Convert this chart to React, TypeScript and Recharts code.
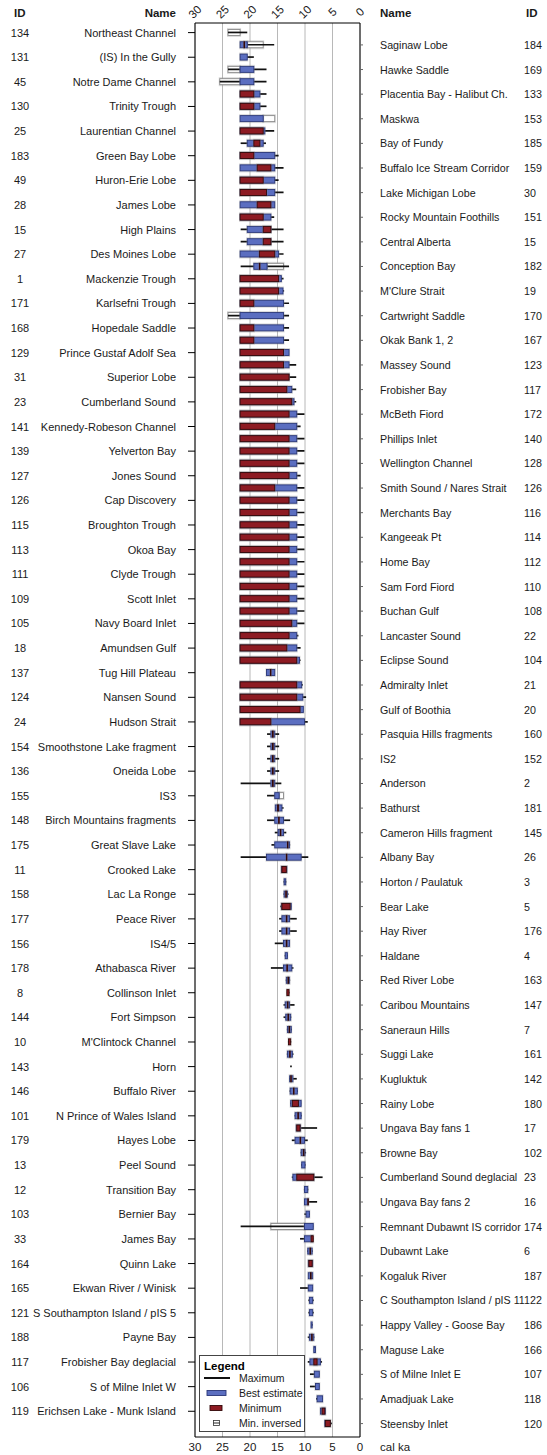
import React from "react";
import { Bar, CartesianGrid, ComposedChart, Legend, XAxis, YAxis } from "recharts";

type Span = [number, number] | null;

// rows alternate: even rows labelled on the left, odd rows on the right
const leftIds = [134, 131, 45, 130, 25, 183, 49, 28, 15, 27, 1, 171, 168, 129, 31, 23, 141, 139, 127, 126, 115, 113, 111, 109, 105, 18, 137, 124, 24, 154, 136, 155, 148, 175, 11, 158, 177, 156, 178, 8, 144, 10, 143, 146, 101, 179, 13, 12, 103, 33, 164, 165, 121, 188, 117, 106, 119];
const leftNames = ["Northeast Channel", "(IS) In the Gully", "Notre Dame Channel", "Trinity Trough", "Laurentian Channel", "Green Bay Lobe", "Huron-Erie Lobe", "James Lobe", "High Plains", "Des Moines Lobe", "Mackenzie Trough", "Karlsefni Trough", "Hopedale Saddle", "Prince Gustaf Adolf Sea", "Superior Lobe", "Cumberland Sound", "Kennedy-Robeson Channel", "Yelverton Bay", "Jones Sound", "Cap Discovery", "Broughton Trough", "Okoa Bay", "Clyde Trough", "Scott Inlet", "Navy Board Inlet", "Amundsen Gulf", "Tug Hill Plateau", "Nansen Sound", "Hudson Strait", "Smoothstone Lake fragment", "Oneida Lobe", "IS3", "Birch Mountains fragments", "Great Slave Lake", "Crooked Lake", "Lac La Ronge", "Peace River", "IS4/5", "Athabasca River", "Collinson Inlet", "Fort Simpson", "M'Clintock Channel", "Horn", "Buffalo River", "N Prince of Wales Island", "Hayes Lobe", "Peel Sound", "Transition Bay", "Bernier Bay", "James Bay", "Quinn Lake", "Ekwan River / Winisk", "S Southampton Island / pIS 5", "Payne Bay", "Frobisher Bay deglacial", "S of Milne Inlet W", "Erichsen Lake - Munk Island"];
const rightIds = [184, 169, 133, 153, 185, 159, 30, 151, 15, 182, 19, 170, 167, 123, 117, 172, 140, 128, 126, 116, 114, 112, 110, 108, 22, 104, 21, 20, 160, 152, 2, 181, 145, 26, 3, 5, 176, 4, 163, 147, 7, 161, 142, 180, 17, 102, 23, 16, 174, 6, 187, 122, 186, 166, 107, 118, 120];
const rightNames = ["Saginaw Lobe", "Hawke Saddle", "Placentia Bay - Halibut Ch.", "Maskwa", "Bay of Fundy", "Buffalo Ice Stream Corridor", "Lake Michigan Lobe", "Rocky Mountain Foothills", "Central Alberta", "Conception Bay", "M'Clure Strait", "Cartwright Saddle", "Okak Bank 1, 2", "Massey Sound", "Frobisher Bay", "McBeth Fiord", "Phillips Inlet", "Wellington Channel", "Smith Sound / Nares Strait", "Merchants Bay", "Kangeeak Pt", "Home Bay", "Sam Ford Fiord", "Buchan Gulf", "Lancaster Sound", "Eclipse Sound", "Admiralty Inlet", "Gulf of Boothia", "Pasquia Hills fragments", "IS2", "Anderson", "Bathurst", "Cameron Hills fragment", "Albany Bay", "Horton / Paulatuk", "Bear Lake", "Hay River", "Haldane", "Red River Lobe", "Caribou Mountains", "Saneraun Hills", "Suggi Lake", "Kugluktuk", "Rainy Lobe", "Ungava Bay fans 1", "Browne Bay", "Cumberland Sound deglacial", "Ungava Bay fans 2", "Remnant Dubawnt IS corridor", "Dubawnt Lake", "Kogaluk River", "C Southampton Island / pIS 11", "Happy Valley - Goose Bay", "Maguse Lake", "S of Milne Inlet E", "Amadjuak Lake", "Steensby Inlet"];

const xTicks = [30, 25, 20, 15, 10, 5, 0];

// ages in cal ka, [older, younger], one entry per row (114 rows)
const maximum: Span[] = [
  [24.0, 20.5], [21.8, 15.6], [21.8, 19.3], [24.0, 17.0], [25.5, 17.0], [21.8, 17.0], [21.8, 17.0], null, [21.8, 15.6], [21.7, 17.1],
  [21.8, 14.8], [21.8, 13.9], [21.8, 14.8], [21.8, 13.9], null, [21.8, 15.6], [21.7, 13.9], [21.7, 13.9], [21.8, 13.9], [21.7, 12.9],
  [21.8, 13.9], [21.8, 13.8], [21.8, 12.9], [24.0, 12.9], [21.8, 12.9], [21.8, 12.9], null, [21.8, 11.6], [21.8, 11.6], [21.8, 11.6],
  [21.8, 11.6], [21.8, 10.1], [21.8, 10.8], [21.8, 10.1], [21.8, 10.1], [21.8, 10.1], [21.8, 10.8], [21.8, 10.1], [21.8, 10.1], [21.8, 10.1],
  [21.8, 10.1], [21.8, 10.1], [21.8, 10.1], [21.8, 10.1], [21.8, 10.1], [21.8, 10.1], [21.8, 10.1], [21.8, 10.1], [21.8, 10.1], [21.8, 11.2],
  [21.8, 10.8], [21.8, 10.8], null, [21.8, 10.4], [21.8, 9.8], null, [21.8, 9.5], [16.9, 14.7], [16.9, 14.7], [16.9, 14.7],
  [16.9, 14.7], [21.7, 14.3], [16.9, 14.7], [15.4, 13.9], [16.9, 12.7], [15.5, 13.4], [16.1, 12.7], [21.7, 9.4], [14.3, 13.3], [13.9, 13.4],
  [13.9, 13.0], [14.5, 12.5], [14.7, 11.5], [14.7, 11.5], [15.5, 12.8], [13.7, 13.1], [16.2, 12.1], [13.5, 12.7], [13.3, 12.8], [13.9, 11.9],
  [13.9, 12.5], [13.3, 12.4], [13.1, 12.5], [13.3, 12.1], [12.7, 12.4], [12.9, 11.5], [12.8, 11.3], [12.7, 10.7], [11.9, 10.6], [11.6, 7.8],
  [12.4, 9.5], [10.8, 9.8], [10.7, 9.9], [12.4, 6.8], [10.2, 9.4], [10.1, 7.8], [10.1, 9.1], [21.7, 8.5], [10.9, 8.5], [9.6, 8.6],
  null, null, [10.9, 8.6], [9.4, 8.4], [9.4, 8.4], [8.9, 8.6], [9.5, 8.3], null, [9.5, 6.9], [9.1, 7.4],
  [9.1, 7.4], [8.0, 6.8], null, [6.4, 5.1],
];

const bestEstimate: Span[] = [
  null, [21.8, 20.5], [21.8, 20.5], [21.8, 19.3], [21.8, 19.3], [21.8, 18.2], [21.8, 18.2], [21.8, 17.6], [21.8, 17.3], [20.5, 17.6],
  [21.8, 15.5], [21.8, 15.5], [21.8, 15.5], [21.8, 15.5], [21.8, 15.5], [21.8, 16.2], [20.5, 16.2], [20.5, 16.2], [21.8, 14.8], [19.3, 16.9],
  [21.8, 14.3], [21.8, 14.0], [21.8, 13.9], [21.8, 13.9], [21.8, 13.9], [21.8, 13.9], [21.8, 12.9], [21.8, 12.9], [21.8, 12.9], [21.8, 12.4],
  [21.8, 12.0], [21.8, 11.5], [21.8, 11.5], [21.8, 11.5], [21.8, 11.5], [21.8, 11.5], [21.8, 11.5], [21.8, 11.5], [21.8, 11.5], [21.8, 11.5],
  [21.8, 11.5], [21.8, 11.5], [21.8, 11.5], [21.8, 11.5], [21.8, 11.5], [21.8, 11.5], [21.8, 11.5], [21.8, 11.5], [21.8, 11.5], [21.8, 11.5],
  [21.8, 11.5], [21.8, 11.0], [17.0, 15.5], [21.8, 10.6], [21.8, 10.4], [21.8, 10.3], [21.8, 10.1], [16.2, 15.5], [16.2, 15.5], [16.2, 15.5],
  [16.2, 15.5], [16.2, 15.5], [15.5, 14.7], [15.4, 14.2], [15.5, 13.9], [14.9, 13.9], [15.5, 12.8], [17.0, 10.7], [14.3, 13.3], [13.8, 13.5],
  [13.8, 13.2], [14.3, 12.5], [14.2, 12.8], [14.2, 12.8], [13.9, 12.8], [13.6, 13.2], [13.9, 12.4], [13.4, 12.8], null, [13.6, 12.8],
  [13.5, 12.6], [13.2, 12.5], null, [13.2, 12.3], null, [12.8, 12.2], [12.7, 11.4], [12.6, 10.7], [11.8, 10.7], [11.6, 10.8],
  [11.8, 10.1], [10.7, 10.0], [10.6, 10.0], [12.2, 8.4], [10.1, 9.5], [10.1, 9.4], [9.8, 9.2], [10.1, 8.5], [10.1, 8.6], [9.5, 8.7],
  [9.4, 8.6], [9.4, 8.6], [9.4, 8.6], [9.2, 8.6], [9.2, 8.6], [8.9, 8.7], [9.2, 8.4], [8.4, 8.1], [9.1, 7.2], [8.3, 7.4],
  [8.1, 7.4], [7.8, 6.8], [7.2, 6.3], [6.4, 5.4],
];

const minimum: Span[] = [
  null, [21.1, 21.0], null, null, null, [21.8, 19.3], [21.8, 19.3], null, [21.8, 17.6], [19.3, 18.2],
  [21.8, 19.3], [18.7, 16.2], [21.8, 17.6], [21.8, 17.0], [18.7, 16.2], [21.8, 17.6], [17.6, 16.2], [17.6, 16.2], [18.3, 15.5], [18.3, 18.2],
  [21.8, 14.8], [21.8, 14.8], [21.8, 19.3], null, [21.8, 19.3], [21.8, 19.3], [21.8, 13.9], [21.8, 13.9], [21.8, 12.9], [21.8, 13.3],
  [21.8, 12.4], [21.8, 12.9], [21.8, 15.5], [21.8, 12.9], [21.8, 12.9], [21.8, 12.9], [21.8, 12.9], [21.8, 15.5], [21.8, 12.9], [21.8, 12.9],
  [21.8, 12.9], [21.8, 12.9], [21.8, 12.9], [21.8, 12.9], [21.8, 12.9], [21.8, 12.9], [21.8, 12.9], [21.8, 12.9], [21.8, 12.4], [21.8, 12.9],
  [21.8, 13.3], [21.8, 11.5], [16.3, 16.2], [21.8, 11.5], [21.8, 11.5], [21.8, 10.9], [21.8, 16.2], [15.9, 15.8], [15.9, 15.8], [15.9, 15.8],
  [15.9, 15.8], [15.9, 15.8], null, [15.0, 14.8], [14.8, 14.7], [14.5, 14.4], [13.2, 13.1], [13.4, 13.3], [14.2, 13.4], null,
  [13.5, 13.4], [14.2, 12.7], [13.4, 13.3], [13.4, 13.3], [13.4, 13.3], null, [13.3, 13.2], [13.1, 13.0], [13.3, 12.9], [13.2, 13.1],
  [13.1, 13.0], [12.9, 12.8], [13.0, 12.6], [12.8, 12.7], null, [12.6, 12.5], [12.1, 12.0], [12.3, 11.2], [11.3, 11.2], [11.5, 10.9],
  [10.9, 10.8], [10.3, 10.2], null, [11.5, 8.4], null, [9.5, 9.4], null, null, [8.9, 8.5], [9.1, 9.0],
  [9.3, 8.7], [9.0, 8.9], null, null, null, null, [8.8, 8.7], null, [8.4, 7.8], null,
  null, null, [6.9, 6.4], [6.3, 5.4],
];

const minInversed: Span[] = [
  [24.0, 21.8], [20.5, 17.6], null, [24.0, 21.8], [25.5, 21.8], null, null, [17.6, 15.5], null, null,
  null, null, null, null, null, null, null, null, null, [16.9, 13.9],
  null, null, null, [24.0, 21.8], null, null, null, null, null, null,
  null, null, null, null, null, null, null, null, null, null,
  null, null, null, null, null, null, null, null, null, null,
  null, null, null, null, null, null, null, null, null, null,
  null, null, [14.7, 13.9], null, null, null, null, null, null, null,
  null, null, null, null, null, null, null, null, null, null,
  null, null, null, null, null, null, null, null, null, null,
  null, null, null, null, null, null, null, [16.2, 10.1], null, null,
  null, null, null, null, null, null, null, null, null, null,
  null, null, null, null,
];

const rows = maximum.map((_, i) => ({
  row: i,
  id: i % 2 === 0 ? leftIds[i / 2] : rightIds[(i - 1) / 2],
  name: i % 2 === 0 ? leftNames[i / 2] : rightNames[(i - 1) / 2],
  max: maximum[i],
  best: bestEstimate[i],
  min: minimum[i],
  inv: minInversed[i],
}));

const leftTicks = leftIds.map((_, k) => k * 2);
const rightTicks = rightIds.map((_, k) => k * 2 + 1);

const FONT = "'Liberation Sans', Arial, sans-serif";
const BLUE = "#5b6ec0";
const BLUE_EDGE = "#2a3778";
const RED = "#8d1b23";
const RED_EDGE = "#320808";

function boxShape(key: string, fill: string, stroke: string) {
  return (props: any) => {
    const { x, y, width, height, payload } = props;
    if (!payload || !payload[key] || !Number.isFinite(x) || !Number.isFinite(width)) return <g />;
    const left = Math.min(x, x + width);
    const w = Math.max(Math.abs(width), 0.6);
    const cy = y + height / 2;
    return (
      <g>
        <rect x={left - 1} y={cy - 4.5} width={w + 2} height={9} fill="#999" fillOpacity={0.35} />
        <rect x={left} y={cy - 3} width={w} height={6} fill={fill} stroke={stroke} strokeWidth={0.9} />
      </g>
    );
  };
}

const whiskerShape = (props: any) => {
  const { x, y, width, height, payload } = props;
  if (!payload || !payload.max || !Number.isFinite(x) || !Number.isFinite(width)) return <g />;
  const left = Math.min(x, x + width);
  const cy = y + height / 2;
  return <line x1={left} x2={left + Math.abs(width)} y1={cy} y2={cy} stroke="#111" strokeWidth={1.7} />;
};

const LeftTick = ({ y, payload }: any) => {
  const r = rows[payload.value];
  if (!r) return null;
  return (
    <g fontFamily={FONT} fontSize={11} fill="#1a1a1a">
      <text x={20} y={y} textAnchor="middle" dominantBaseline="central">{r.id}</text>
      <text x={176} y={y} textAnchor="end" dominantBaseline="central">{r.name}</text>
    </g>
  );
};

const RightTick = ({ y, payload }: any) => {
  const r = rows[payload.value];
  if (!r) return null;
  return (
    <g fontFamily={FONT} fontSize={10.7} fill="#1a1a1a">
      <text x={380} y={y} dominantBaseline="central">{r.name}</text>
      <text x={524} y={y} dominantBaseline="central">{r.id}</text>
    </g>
  );
};

const TopTick = ({ x, payload }: any) => (
  <text x={x} y={12} transform={`rotate(-45 ${x} 12)`} textAnchor="middle" dominantBaseline="central"
    fontFamily={FONT} fontSize={11.5} fill="#1a1a1a">{payload.value}</text>
);

const BottomTick = ({ x, payload }: any) => (
  <text x={x} y={1447} textAnchor="middle" dominantBaseline="central"
    fontFamily={FONT} fontSize={11.5} fill="#1a1a1a">{payload.value}</text>
);

const legendItems = ["Maximum", "Best estimate", "Minimum", "Min. inversed"];

const LegendBox = () => (
  <svg width={106} height={77} style={{ display: "block", fontFamily: FONT }}>
    <rect x={0.5} y={0.5} width={105} height={76} fill="#fff" stroke="#444" />
    <text x={5} y={11} fontSize={11.5} fontWeight="bold" dominantBaseline="central">Legend</text>
    <line x1={5} x2={31} y1={23} y2={23} stroke="#111" strokeWidth={2} />
    <rect x={8} y={35.5} width={19} height={5} fill={BLUE} stroke={BLUE_EDGE} strokeWidth={0.9} />
    <rect x={11} y={50.5} width={12} height={5} fill={RED} stroke={RED_EDGE} strokeWidth={0.9} />
    <rect x={14.5} y={65.5} width={6} height={5} fill="#fff" stroke="#333" strokeWidth={0.8} />
    <line x1={14.5} x2={20.5} y1={68} y2={68} stroke="#111" strokeWidth={0.9} />
    {legendItems.map((t, k) => (
      <text key={t} x={40} y={23 + k * 15} fontSize={10.5} dominantBaseline="central" fill="#1a1a1a">{t}</text>
    ))}
  </svg>
);

const headStyle: React.CSSProperties = {
  position: "absolute",
  top: 6,
  fontFamily: FONT,
  fontSize: 11.5,
  fontWeight: "bold",
  lineHeight: "14px",
  color: "#1a1a1a",
};

export default function App() {
  return (
    <div style={{ position: "absolute", left: 0, top: 0, width: 547, height: 1455, background: "#fff" }}>
      <ComposedChart
        width={547}
        height={1455}
        data={rows}
        layout="vertical"
        margin={{ top: 1, right: 0, bottom: 0, left: 0 }}
        barGap={-8}
      >
        <CartesianGrid xAxisId="bottom" yAxisId="left" horizontal={false} stroke="#b8b8b8" />
        <XAxis
          xAxisId="bottom"
          type="number"
          domain={[0, 30]}
          allowDataOverflow
          reversed
          ticks={xTicks}
          interval={0}
          height={18}
          tickLine={false}
          axisLine={{ stroke: "#000" }}
          tick={BottomTick}
          label={{
            content: () => (
              <text x={380} y={1447} dominantBaseline="central" fontFamily={FONT} fontSize={11.5} fill="#1a1a1a">cal ka</text>
            ),
          }}
        />
        <XAxis
          xAxisId="top"
          orientation="top"
          type="number"
          domain={[0, 30]}
          allowDataOverflow
          reversed
          ticks={xTicks}
          interval={0}
          height={22}
          tickLine={false}
          axisLine={{ stroke: "#000" }}
          tick={TopTick}
        />
        <YAxis
          yAxisId="left"
          dataKey="row"
          type="number"
          domain={[-0.78, 114.09]}
          ticks={leftTicks}
          interval={0}
          width={195}
          tickSize={7}
          axisLine={{ stroke: "#000" }}
          tickLine={{ stroke: "#000" }}
          tick={LeftTick}
        />
        <YAxis
          yAxisId="right"
          orientation="right"
          dataKey="row"
          type="number"
          domain={[-0.78, 114.09]}
          ticks={rightTicks}
          interval={0}
          width={187}
          tickSize={3}
          axisLine={{ stroke: "#000" }}
          tickLine={{ stroke: "#666" }}
          tick={RightTick}
        />
        <Bar xAxisId="top" yAxisId="left" dataKey="inv" name="Min. inversed" barSize={8}
          shape={boxShape("inv", "#ffffff", "#8a8a8a")} isAnimationActive={false} />
        <Bar xAxisId="bottom" yAxisId="left" dataKey="max" name="Maximum" barSize={8}
          shape={whiskerShape} isAnimationActive={false} />
        <Bar xAxisId="bottom" yAxisId="left" dataKey="best" name="Best estimate" barSize={8}
          shape={boxShape("best", BLUE, BLUE_EDGE)} isAnimationActive={false} />
        <Bar xAxisId="bottom" yAxisId="left" dataKey="min" name="Minimum" barSize={8}
          shape={boxShape("min", RED, RED_EDGE)} isAnimationActive={false} />
        <Legend
          layout="vertical"
          align="center"
          verticalAlign="middle"
          content={LegendBox}
          wrapperStyle={{ position: "absolute", left: 199, top: 1355, width: 106, height: 77 }}
        />
      </ComposedChart>
      <div style={{ ...headStyle, left: 14 }}>ID</div>
      <div style={{ ...headStyle, right: 547 - 176 }}>Name</div>
      <div style={{ ...headStyle, left: 380 }}>Name</div>
      <div style={{ ...headStyle, left: 526 }}>ID</div>
    </div>
  );
}
